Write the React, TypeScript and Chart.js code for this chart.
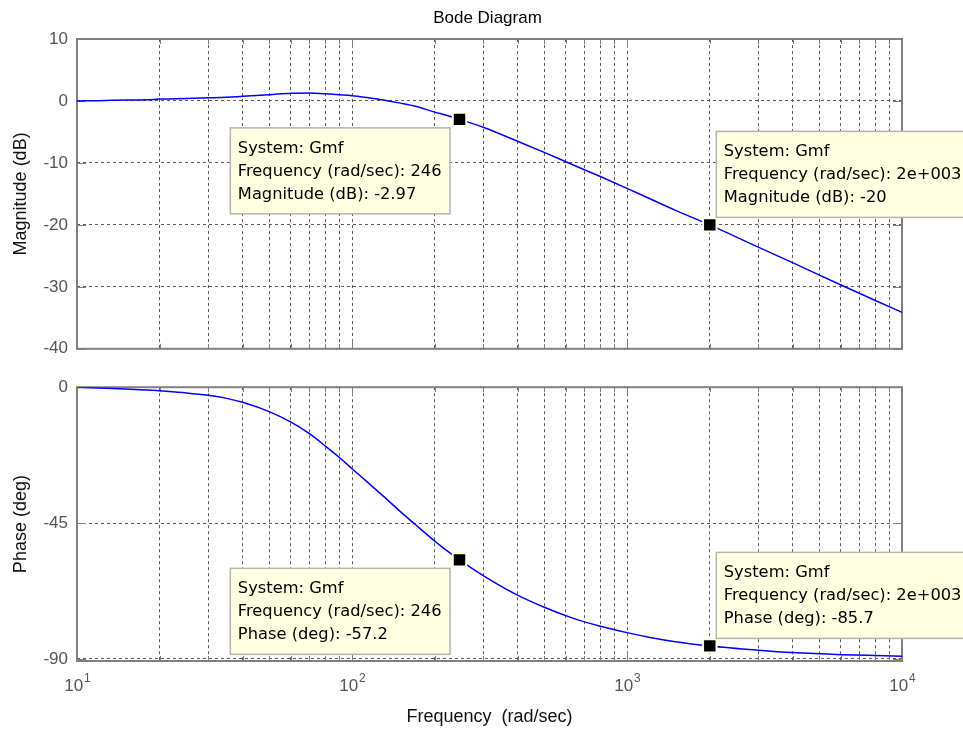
import React, { useEffect, useRef } from 'react';
import { Chart, registerables } from 'chart.js';

Chart.register(...registerables);

// Frequency response of Gmf, sampled along the log frequency axis (rad/sec)
const frequency = [10, 12, 15, 18, 20, 25, 30, 35, 40, 50, 60, 70, 80, 90, 100, 113, 130, 150, 170, 200, 220, 246, 300, 400, 500, 635, 800, 1000, 1200, 1500, 2000, 3000, 4000, 6000, 8000, 10000];
const magnitudeDb = [0, 0.05, 0.15, 0.2, 0.3, 0.4, 0.5, 0.6, 0.75, 1.0, 1.25, 1.3, 1.15, 1.0, 0.85, 0.55, 0.15, -0.35, -0.85, -1.8, -2.3, -2.97, -4.25, -6.5, -8.3, -10.3, -12.2, -14.1, -15.7, -17.65, -20, -23.6, -26.1, -29.7, -32.2, -34.1];
const phaseDeg = [0, -0.3, -0.6, -0.9, -1.2, -1.9, -2.7, -3.7, -5.0, -8.1, -11.6, -15.4, -19.5, -23.3, -27.0, -31.2, -36.1, -41.2, -45.5, -51.0, -54.0, -57.2, -62.4, -68.9, -72.9, -76.5, -79.2, -81.3, -82.8, -84.3, -85.7, -87.1, -87.9, -88.6, -88.9, -89.1];

// Data tips placed on the response
const tipSystem = 'Gmf';
const tipFrequency = [246, 2000];
const tipFrequencyText = ['246', '2e+003'];
const tipMagnitudeDb = [-2.97, -20];
const tipPhaseDeg = [-57.2, -85.7];
const tipSide = ['left', 'right'];

// Axis ticks
const decades = [10, 100, 1000, 10000];
const decadeExponents = ['1', '2', '3', '4'];
const minorMultipliers = [2, 3, 4, 5, 6, 7, 8, 9];
const magnitudeTicks = [10, 0, -10, -20, -30, -40];
const phaseTicks = [0, -45, -90];

const WIDTH = 963;
const AXIS_FONT = "'Liberation Sans', Arial, Helvetica, sans-serif";
const TIP_FONT_FAMILY = "'DejaVu Sans', Verdana, sans-serif";
const FRAME_COLOR = '#808080';
const GRID_COLOR = '#5c5c5c';
const TICK_TEXT = '#555555';
const PLOT_LEFT = 77;
const PLOT_RIGHT = 902;

const xGridValues = decades.flatMap((d, i) =>
  i < decades.length - 1 ? [d, ...minorMultipliers.map((m) => d * m)] : [d]
);

type PanelSpec = {
  canvasTop: number;
  canvasHeight: number;
  areaTop: number;
  areaBottom: number;
  yMin: number;
  yMax: number;
  yTicks: number[];
  yTitle: string;
  values: number[];
  tipValues: number[];
  tipLabel: string;
  title?: string;
  xTitle?: string;
};

const panels: PanelSpec[] = [
  {
    canvasTop: 0,
    canvasHeight: 368,
    areaTop: 39,
    areaBottom: 357,
    yMin: -40,
    yMax: 10,
    yTicks: magnitudeTicks,
    yTitle: 'Magnitude (dB)',
    values: magnitudeDb,
    tipValues: tipMagnitudeDb,
    tipLabel: 'Magnitude (dB)',
    title: 'Bode Diagram',
  },
  {
    canvasTop: 368,
    canvasHeight: 361,
    areaTop: 11,
    areaBottom: 293,
    yMin: -90.7,
    yMax: 0,
    yTicks: phaseTicks,
    yTitle: 'Phase (deg)',
    values: phaseDeg,
    tipValues: tipPhaseDeg,
    tipLabel: 'Phase (deg)',
    xTitle: 'Frequency  (rad/sec)',
  },
];

function bodePlugin(spec: PanelSpec) {
  return {
    id: 'bodeFrame',
    beforeDatasetsDraw(chart: any) {
      const { ctx, chartArea: a } = chart;
      const xs = chart.scales.x;
      const ys = chart.scales.y;
      ctx.save();
      ctx.strokeStyle = FRAME_COLOR;
      ctx.lineWidth = 1;
      ctx.beginPath();
      xGridValues.forEach((v) => {
        const px = Math.round(xs.getPixelForValue(v)) + 0.5;
        const len = decades.includes(v) ? 9 : 5;
        ctx.moveTo(px, a.bottom);
        ctx.lineTo(px, a.bottom - len);
        ctx.moveTo(px, a.top);
        ctx.lineTo(px, a.top + len);
      });
      spec.yTicks.forEach((v) => {
        const py = Math.round(ys.getPixelForValue(v)) + 0.5;
        ctx.moveTo(a.left, py);
        ctx.lineTo(a.left + 9, py);
        ctx.moveTo(a.right, py);
        ctx.lineTo(a.right - 9, py);
      });
      ctx.stroke();
      ctx.lineWidth = 2;
      ctx.strokeRect(a.left, a.top, a.right - a.left, a.bottom - a.top);
      ctx.restore();
    },
    afterDraw(chart: any) {
      const { ctx, chartArea: a } = chart;
      const xs = chart.scales.x;
      ctx.save();

      if (spec.title) {
        ctx.font = `17px ${AXIS_FONT}`;
        ctx.fillStyle = '#000';
        ctx.textAlign = 'center';
        ctx.textBaseline = 'middle';
        ctx.fillText(spec.title, (a.left + a.right) / 2 - 2, 18);
      }

      if (spec.xTitle) {
        const baseY = a.bottom + 30;
        decades.forEach((d, i) => {
          const px = xs.getPixelForValue(d);
          ctx.font = `17px ${AXIS_FONT}`;
          const bw = ctx.measureText('10').width;
          ctx.font = `12px ${AXIS_FONT}`;
          const ew = ctx.measureText(decadeExponents[i]).width;
          const left = px - (bw + ew) / 2;
          ctx.fillStyle = TICK_TEXT;
          ctx.textAlign = 'left';
          ctx.textBaseline = 'alphabetic';
          ctx.font = `17px ${AXIS_FONT}`;
          ctx.fillText('10', left, baseY);
          ctx.font = `12px ${AXIS_FONT}`;
          ctx.fillText(decadeExponents[i], left + bw + 1, baseY - 9);
        });
      }

      // data tip boxes next to the marked points
      const meta = chart.getDatasetMeta(0);
      meta.data.forEach((pt: any, i: number) => {
        const lines = [
          `System: ${tipSystem}`,
          `Frequency (rad/sec): ${tipFrequencyText[i]}`,
          `${spec.tipLabel}: ${spec.tipValues[i]}`,
        ];
        ctx.font = `16.3px ${TIP_FONT_FAMILY}`;
        const w = Math.max(...lines.map((l) => ctx.measureText(l).width)) + 16;
        const h = 86;
        const left = tipSide[i] === 'left' ? pt.x - 10 - w : pt.x + 6;
        const top = tipSide[i] === 'left' ? pt.y + 8 : pt.y - 8 - h;
        ctx.fillStyle = '#ffffe1';
        ctx.fillRect(left, top, w, h);
        ctx.strokeStyle = '#b4b4b4';
        ctx.lineWidth = 1.5;
        ctx.strokeRect(left + 0.5, top + 0.5, w, h);
        ctx.fillStyle = '#000';
        ctx.textAlign = 'left';
        ctx.textBaseline = 'middle';
        lines.forEach((l, k) => ctx.fillText(l, left + 8, top + 21 + k * 23));
      });
      ctx.restore();
    },
  };
}

function buildConfig(spec: PanelSpec): any {
  const gridOpts = { color: GRID_COLOR, lineWidth: 1, drawTicks: false };
  const borderOpts = { display: false, dash: [3, 3] };
  return {
    type: 'line',
    data: {
      datasets: [
        {
          label: 'tips',
          data: tipFrequency.map((f, i) => ({ x: f, y: spec.tipValues[i] })),
          showLine: false,
          pointStyle: 'rect',
          pointRadius: 9.5,
          pointBackgroundColor: '#000000',
          pointBorderColor: '#ffffe1',
          pointBorderWidth: 2,
          order: 0,
        },
        {
          label: 'Gmf',
          data: frequency.map((f, i) => ({ x: f, y: spec.values[i] })),
          borderColor: '#0000ff',
          borderWidth: 1.5,
          pointRadius: 0,
          cubicInterpolationMode: 'monotone',
          fill: false,
          order: 1,
        },
      ],
    },
    options: {
      responsive: false,
      animation: false,
      devicePixelRatio: 1,
      events: [],
      layout: { padding: { top: spec.areaTop, right: WIDTH - PLOT_RIGHT, left: 0, bottom: 0 } },
      plugins: { legend: { display: false }, tooltip: { enabled: false }, title: { display: false } },
      scales: {
        x: {
          type: 'logarithmic',
          min: 10,
          max: 10000,
          afterBuildTicks: (s: any) => {
            s.ticks = xGridValues.map((v) => ({ value: v }));
          },
          afterFit: (s: any) => {
            s.height = spec.canvasHeight - spec.areaBottom;
          },
          ticks: { display: false },
          grid: gridOpts,
          border: borderOpts,
          title: spec.xTitle
            ? {
                display: true,
                text: spec.xTitle,
                color: '#111',
                font: { family: AXIS_FONT, size: 18 },
                padding: { top: 0, bottom: 1 },
              }
            : { display: false },
        },
        y: {
          min: spec.yMin,
          max: spec.yMax,
          afterBuildTicks: (s: any) => {
            s.ticks = spec.yTicks.map((v) => ({ value: v }));
          },
          afterFit: (s: any) => {
            s.width = PLOT_LEFT;
          },
          ticks: {
            color: TICK_TEXT,
            font: { family: AXIS_FONT, size: 17 },
            padding: 9,
            callback: (v: number) => String(v),
          },
          grid: gridOpts,
          border: borderOpts,
          title: {
            display: true,
            text: spec.yTitle,
            color: '#111',
            font: { family: AXIS_FONT, size: 18 },
            padding: { top: 10, bottom: 0 },
          },
        },
      },
    },
    plugins: [bodePlugin(spec)],
  };
}

function BodePanel({ spec }: { spec: PanelSpec }) {
  const ref = useRef<HTMLCanvasElement>(null);
  useEffect(() => {
    const chart = new Chart(ref.current as HTMLCanvasElement, buildConfig(spec));
    return () => chart.destroy();
  }, [spec]);
  return (
    <canvas
      ref={ref}
      width={WIDTH}
      height={spec.canvasHeight}
      style={{ position: 'absolute', left: 0, top: spec.canvasTop, width: WIDTH, height: spec.canvasHeight }}
    />
  );
}

export default function App() {
  return (
    <div style={{ position: 'absolute', left: 0, top: 0, width: WIDTH, height: 729, background: '#fff', overflow: 'hidden' }}>
      {panels.map((p, i) => (
        <BodePanel key={i} spec={p} />
      ))}
    </div>
  );
}
